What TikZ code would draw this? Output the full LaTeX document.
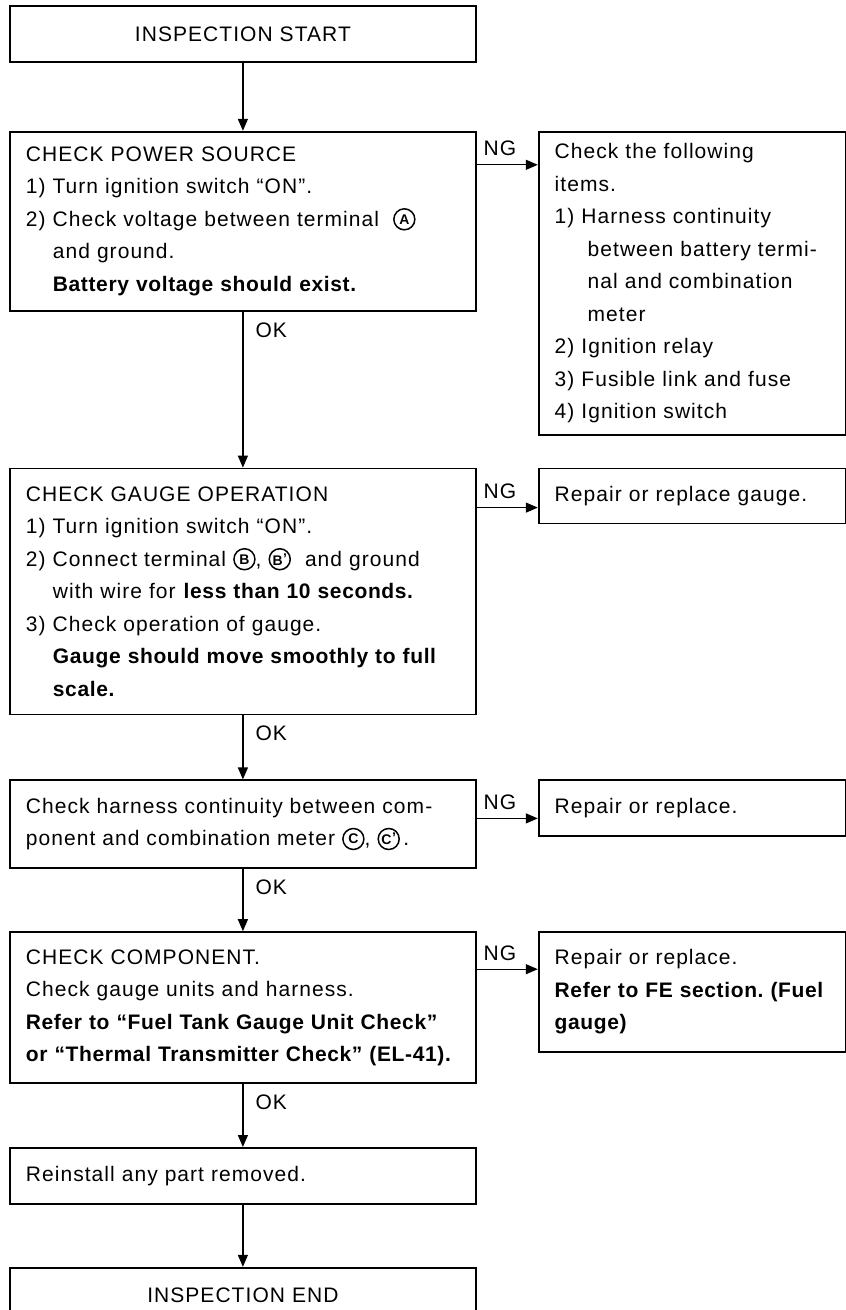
\documentclass[tikz,border=0pt]{standalone}
\usepackage{fontspec}
\setmainfont{Liberation Sans}[LetterSpace=5,BoldFeatures={LetterSpace=3}]
\usetikzlibrary{arrows.meta,positioning}
% circled terminal letters
\newcommand{\term}[1]{\raisebox{7pt}{\tikz[baseline=(t.center)] \node[draw,circle,line width=1.5pt,inner sep=0pt,minimum size=21pt,
    text width={},align=center,anchor=center,font=\fontsize{14}{14}\selectfont\bfseries] (t) {#1};}}
\newcommand{\termp}[1]{\term{#1\kern0.5pt\raisebox{2pt}{'}}}
\newcommand{\indl}{\hspace*{27pt}}
\newcommand{\indr}{\hspace*{33pt}}

\begin{document}
\frenchspacing
\begin{tikzpicture}[
    x=1pt, y=1pt,
    font=\fontsize{21}{32.5}\selectfont,
    box/.style={draw,line width=1.8pt,inner xsep=16pt,inner ysep=0pt,text width=434pt,align=left,anchor=north west},
    side/.style={box,text width=275pt},
    arr/.style={-{Triangle[length=12pt,width=10pt]},line width=1.3pt},
    lbl/.style={inner sep=0pt}
  ]
    \useasboundingbox (0,0) rectangle (846,-1310);
    \node[box,align=center,minimum height=56pt] (start) at (9,-5) {INSPECTION START};
    \node[box,minimum height=179pt,below=68pt of start] (power) {CHECK POWER SOURCE\\
      1) Turn ignition switch “ON”.\\
      2) Check voltage between terminal \ \term{A}\\
      \indl and ground.\\
      \indl\textbf{Battery voltage should exist.}};
    \node[side,minimum height=303pt,right=61pt of power.north east,anchor=north west] (pside) {Check the following\\
      items.\\
      1) Harness continuity\\
      \indr between battery termi-\\
      \indr nal and combination\\
      \indr meter\\
      2) Ignition relay\\
      3) Fusible link and fuse\\
      4) Ignition switch};
    \node[box,minimum height=246pt,below=156pt of power] (gauge) {CHECK GAUGE OPERATION\\
      1) Turn ignition switch “ON”.\\
      2) Connect terminal \term{B}, \termp{B} \ and ground\\
      \indl with wire for \textbf{less than 10 seconds.}\\
      3) Check operation of gauge.\\
      \indl\textbf{Gauge should move smoothly to full}\\
      \indl\textbf{scale.}};
    \node[side,minimum height=55pt,right=61pt of gauge.north east,anchor=north west] (gside) {Repair or replace gauge.};
    \node[box,minimum height=88pt,below=64pt of gauge] (harness) {Check harness continuity between com-\\
      ponent and combination meter \term{C}, \termp{C}\,.};
    \node[side,minimum height=56pt,right=61pt of harness.north east,anchor=north west] (hside) {Repair or replace.};
    \node[box,minimum height=151pt,below=62pt of harness] (comp) {CHECK COMPONENT.\\
      Check gauge units and harness.\\
      \textbf{Refer to “Fuel Tank Gauge Unit Check”}\\
      \textbf{or “Thermal Transmitter Check” (EL-41).}};
    \node[side,minimum height=120pt,right=61pt of comp.north east,anchor=north west] (cside) {Repair or replace.\\
      \textbf{Refer to FE section. (Fuel}\\
      \textbf{gauge)}};
    \node[box,minimum height=56pt,below=63pt of comp] (reinst) {Reinstall any part removed.};
    \node[box,align=center,minimum height=56pt,below=62pt of reinst] (finish) {INSPECTION END};

    % OK path
    \draw[arr] (start) -- (power);
    \draw[arr] (power) -- node[lbl,right=12pt,pos=0.12] (ok1) {OK} (gauge);
    \draw[arr] (gauge) -- node[lbl,right=12pt,pos=0.28] (ok2) {OK} (harness);
    \draw[arr] (harness) -- node[lbl,right=12pt,pos=0.29] (ok3) {OK} (comp);
    \draw[arr] (comp) -- node[lbl,right=12pt,pos=0.29] (ok4) {OK} (reinst);
    \draw[arr] (reinst) -- (finish);
    % NG branches
    \draw[arr] ([yshift=-34pt]power.north east) -- node[lbl,above=8pt,pos=0.38] (ng1) {NG} ([yshift=-34pt]pside.north west);
    \draw[arr] ([yshift=-40pt]gauge.north east) -- node[lbl,above=8pt,pos=0.38] (ng2) {NG} ([yshift=-40pt]gside.north west);
    \draw[arr] ([yshift=-39pt]harness.north east) -- node[lbl,above=8pt,pos=0.38] (ng3) {NG} ([yshift=-39pt]hside.north west);
    \draw[arr] ([yshift=-38pt]comp.north east) -- node[lbl,above=8pt,pos=0.38] (ng4) {NG} ([yshift=-38pt]cside.north west);
  \end{tikzpicture}
\end{document}
